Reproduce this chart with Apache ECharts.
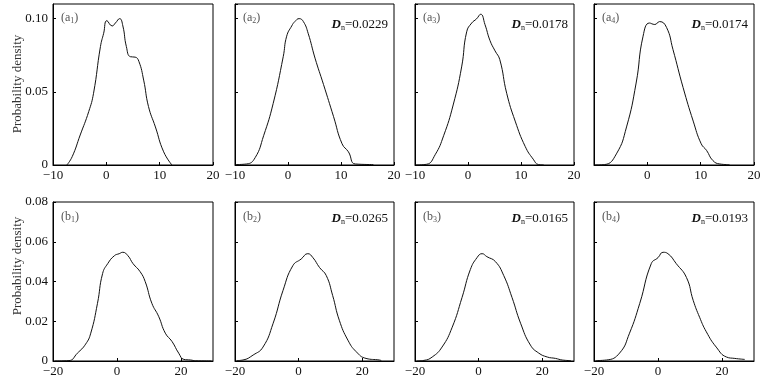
<!DOCTYPE html>
<html>
<head>
<meta charset="utf-8">
<script src="https://cdn.jsdelivr.net/npm/echarts@6/dist/echarts.min.js"></script>
<style>
  html, body { margin: 0; padding: 0; background: #fff; }
  #chart { width: 764px; height: 381px; }
</style>
</head>
<body>
<div id="chart"></div>
<script>
// density curves, [x, density]
const a1 = [[-7.4, 0], [-6.4, 0.0057], [-4.9, 0.0205], [-3.3, 0.0365], [-2.4, 0.049], [-1.1, 0.081], [-0.5, 0.09], [0.1, 0.0986], [1.1, 0.095], [1.7, 0.097], [2.5, 0.1], [3.1, 0.095], [3.75, 0.081], [4.5, 0.074], [5.4, 0.0737], [6.1, 0.0708], [7.0, 0.058], [7.9, 0.04], [9.2, 0.026], [10.75, 0.009], [12.3, 0]]
const a2 = [[-9.8, 0.0003], [-7.8, 0.0007], [-6.2, 0.005], [-4.6, 0.02], [-2.8, 0.042], [-0.9, 0.074], [-0.25, 0.088], [0.7, 0.095], [1.3, 0.098], [2.1, 0.1], [2.9, 0.098], [3.8, 0.09], [5.1, 0.073], [6.7, 0.055], [8.6, 0.033], [10.2, 0.0145], [11.4, 0.009], [12.7, 0.0007], [16.1, 0.0003]]
const a3 = [[-9.8, 0], [-7.8, 0.0005], [-6.2, 0.007], [-4.6, 0.02], [-2.8, 0.041], [-1.2, 0.067], [-0.25, 0.091], [0.7, 0.097], [1.6, 0.0998], [2.4, 0.103], [3.2, 0.096], [4.15, 0.085], [5.1, 0.078], [6.0, 0.072], [7.3, 0.049], [8.9, 0.03], [10.8, 0.0126], [12.3, 0.004], [13.3, 0.0003], [14.3, 0]]
const a4 = [[-9.8, 0], [-8, 0.0003], [-5.8, 0.0076], [-3.9, 0.026], [-2.1, 0.056], [-0.8, 0.088], [0.4, 0.097], [1.4, 0.096], [2.3, 0.098], [3.6, 0.094], [4.8, 0.079], [6.7, 0.053], [8.6, 0.03], [10.1, 0.0145], [11.1, 0.01], [12.3, 0.003], [13.6, 0.0007], [15.4, 0.0002]]
const b1 = [[-19.5, 0], [-15, 0.0002], [-12.4, 0.0039], [-9.8, 0.0085], [-8.2, 0.014], [-6.1, 0.029], [-4.5, 0.044], [-2.9, 0.049], [-0.8, 0.053], [0.7, 0.054], [1.8, 0.0547], [3.4, 0.053], [5.0, 0.049], [7.2, 0.045], [8.8, 0.04], [10.9, 0.029], [13.0, 0.0225], [15.1, 0.014], [17.2, 0.0098], [19.3, 0.0039], [20.9, 0.0008], [23, 0.0005], [24.6, 0.0001], [29.5, 0]]
const b2 = [[-19.5, 0.0002], [-17.5, 0.0005], [-14.3, 0.003], [-11.2, 0.007], [-8.0, 0.019], [-4.9, 0.0355], [-1.8, 0.048], [0.8, 0.0513], [2.9, 0.054], [4.5, 0.052], [6.6, 0.047], [8.7, 0.043], [10.7, 0.033], [12.8, 0.0205], [15.5, 0.0105], [18.1, 0.0047], [21.2, 0.0013], [25.4, 0.0005], [26, 0.0002]]
const b3 = [[-19.5, 0], [-17.2, 0.0003], [-14.6, 0.002], [-11.5, 0.007], [-8.3, 0.017], [-5.2, 0.032], [-2.6, 0.046], [-0.5, 0.052], [1.1, 0.054], [2.6, 0.0525], [5.3, 0.05], [7.9, 0.043], [10.5, 0.032], [13.2, 0.019], [16.3, 0.008], [18.9, 0.004], [21.6, 0.002], [24.2, 0.0013], [26.3, 0.0005], [29, 0.0002]]
const b4 = [[-19.5, 0.0002], [-16.1, 0.0005], [-12.0, 0.004], [-8.9, 0.014], [-5.7, 0.029], [-2.1, 0.049], [0, 0.052], [1.6, 0.0547], [3.1, 0.054], [5.7, 0.049], [8.9, 0.042], [11.0, 0.0305], [13.0, 0.022], [15.1, 0.0147], [18.2, 0.007], [21.4, 0.002], [24.0, 0.0013], [27.1, 0.0008]]

const curves = [a1, a2, a3, a4, b1, b2, b3, b4]
const panelTags = ['a1', 'a2', 'a3', 'a4', 'b1', 'b2', 'b3', 'b4']
const dnValues = [null, '0.0229', '0.0178', '0.0174', null, '0.0265', '0.0165', '0.0193']

const topX = { min: -10, max: 20, interval: 10 }
const topY = { min: 0, max: 0.11, interval: 0.05 }
const botX = { min: -20, max: 30, interval: 20 }
const botY = { min: 0, max: 0.08, interval: 0.02 }

const FONT = '"Liberation Serif", "Times New Roman", serif'
const colLeft = [53, 235, 415, 594]
const colWidth = [160, 159, 159, 160]
const rowTop = [4, 202]
const rowHeight = [161, 159]

const grids = []
const xAxes = []
const yAxes = []
const series = []
const titles = []

function fmtX(v) {
  return String(v).replace('-', '\u2212')
}
function fmtY(v) {
  return v === 0 ? '0' : v.toFixed(2)
}

curves.forEach((data, i) => {
  const row = i < 4 ? 0 : 1
  const col = i % 4
  const xs = row === 0 ? topX : botX
  const ys = row === 0 ? topY : botY
  const left = colLeft[col]
  const top = rowTop[row]

  grids.push({
    left, top, width: colWidth[col], height: rowHeight[row],
    show: true, borderColor: '#000', borderWidth: 1, backgroundColor: 'transparent',
  })

  xAxes.push({
    type: 'value', gridIndex: i, min: xs.min, max: xs.max, interval: xs.interval,
    axisLine: { onZero: false, lineStyle: { color: '#000', width: 1 } },
    axisTick: { inside: true, length: 3, lineStyle: { color: '#000' } },
    splitLine: { show: false },
    axisLabel: {
      color: '#111', fontFamily: FONT, fontSize: 13, margin: 4,
      formatter: fmtX,
      showMaxLabel: row === 1 ? false : true,
      showMinLabel: !(row === 0 && col === 3),
    },
  })

  yAxes.push({
    type: 'value', gridIndex: i, min: ys.min, max: ys.max, interval: ys.interval,
    axisLine: { onZero: false, lineStyle: { color: '#000', width: 1 } },
    axisTick: { inside: true, length: 3, lineStyle: { color: '#000' } },
    splitLine: { show: false },
    axisLabel: {
      show: col === 0,
      color: '#111', fontFamily: FONT, fontSize: 13, margin: 5,
      formatter: fmtY,
      showMaxLabel: row === 0 ? false : true,
    },
  })

  series.push({
    type: 'line', xAxisIndex: i, yAxisIndex: i, data,
    showSymbol: false, smooth: 0.5,
    lineStyle: { color: '#111', width: 1 },
  })

  const tag = panelTags[i]
  titles.push({
    left: left + 8, top: top + (row === 0 ? 7 : 8), padding: 0,
    text: '{p|(' + tag[0] + '}{s|' + tag[1] + '}{p|)}',
    textStyle: {
      fontWeight: 'normal',
      rich: {
        p: { fontFamily: FONT, fontSize: 12, fontWeight: 'normal', color: '#555', lineHeight: 14 },
        s: { fontFamily: FONT, fontSize: 8, fontWeight: 'normal', color: '#555', lineHeight: 14, verticalAlign: 'bottom', padding: [5, 0, 0, 0] },
      },
    },
  })

  if (dnValues[i]) {
    titles.push({
      right: 764 - (left + colWidth[col]) + 6, top: top + (row === 0 ? 14 : 10), padding: 0,
      text: '{d|D}{s|n}{v|=' + dnValues[i] + '}',
      textStyle: {
        fontWeight: 'normal',
        rich: {
          d: { fontFamily: FONT, fontSize: 13, fontStyle: 'italic', fontWeight: 'bold', color: '#111', lineHeight: 14 },
          s: { fontFamily: FONT, fontSize: 8, fontWeight: 'normal', color: '#111', lineHeight: 14, verticalAlign: 'bottom', padding: [5, 0, 0, 0] },
          v: { fontFamily: FONT, fontSize: 13, fontWeight: 'normal', color: '#111', lineHeight: 14 },
        },
      },
    })
  }
})

const chart = echarts.init(document.getElementById('chart'), null, { renderer: 'canvas' })
chart.setOption({
  animation: false,
  backgroundColor: '#fff',
  title: titles,
  grid: grids,
  xAxis: xAxes,
  yAxis: yAxes,
  series,
  graphic: [
    {
      type: 'text', x: 11, y: 84, rotation: Math.PI / 2,
      style: { text: 'Probability density', font: '13px ' + FONT, fill: '#333', align: 'center', verticalAlign: 'top' },
    },
    {
      type: 'text', x: 11, y: 266, rotation: Math.PI / 2,
      style: { text: 'Probability density', font: '13px ' + FONT, fill: '#333', align: 'center', verticalAlign: 'top' },
    },
  ],
})
</script>
</body>
</html>
